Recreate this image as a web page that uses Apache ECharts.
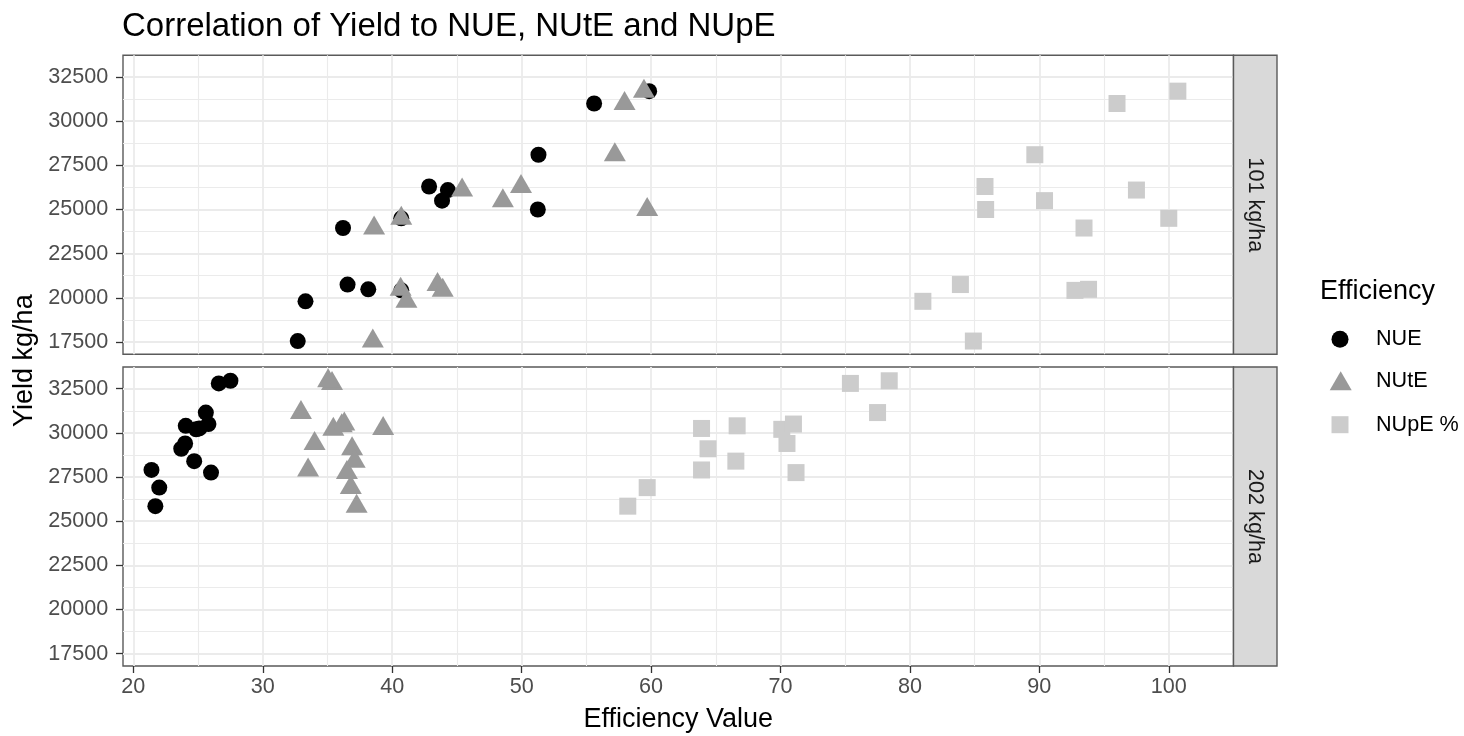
<!DOCTYPE html>
<html>
<head>
<meta charset="utf-8">
<script src="https://cdn.jsdelivr.net/npm/echarts@6/dist/echarts.min.js"></script>
<style>
  html, body { margin: 0; padding: 0; background: #ffffff; }
  #chart { width: 1464px; height: 736px; }
</style>
</head>
<body>
<div id="chart"></div>
<script>
// Grain yield (kg/ha) per plot with its nitrogen efficiencies, for two N rates.
// Arrays are aligned by plot: yield[k] goes with nue[k], nute[k], nupe[k].
const yield101 = [17550, 19800, 23950, 20750, 20480, 20420, 24500, 26300, 26100, 25500, 28100, 25000, 31000, 31700];
const nue101   = [32.7, 33.3, 36.2, 36.55, 38.15, 40.7, 40.7, 42.85, 44.3, 43.85, 51.3, 51.25, 55.6, 59.85];
const nute101  = [38.5, 41.1, 38.6, 43.5, 40.65, 43.9, 40.7, 49.95, 45.4, 48.55, 57.2, 59.7, 57.95, 59.45];
const nupe101  = [84.9, 81.0, 93.45, 83.9, 93.8, 92.75, 100.0, 85.8, 97.5, 90.4, 89.65, 85.85, 96.0, 100.7];

const yield202 = [27900, 26900, 25850, 30400, 29400, 29100, 28400, 27750, 30250, 30200, 31150, 30500, 32800, 32950];
const nue202   = [21.4, 22.0, 21.7, 24.05, 24.0, 23.7, 24.7, 26.0, 25.1, 24.85, 25.6, 25.8, 26.6, 27.5];
const nute202  = [33.5, 36.8, 37.25, 36.1, 34.0, 36.9, 37.1, 36.5, 39.3, 35.45, 32.95, 36.3, 35.35, 35.05];
const nupe202  = [63.9, 59.7, 58.2, 66.65, 70.5, 64.4, 66.55, 71.2, 63.9, 70.1, 77.5, 71.0, 75.4, 78.4];

const facetLabels = ['101 kg/ha', '202 kg/ha'];
const efficiencyNames = ['NUE', 'NUtE', 'NUpE %'];

const xTicks = [20, 30, 40, 50, 60, 70, 80, 90, 100];
const xMinorTicks = [25, 35, 45, 55, 65, 75, 85, 95];
const yTicks = [17500, 20000, 22500, 25000, 27500, 30000, 32500];
const yMinorTicks = [18750, 21250, 23750, 26250, 28750, 31250];

// ---- layout and styling ----
const FONT = '"Liberation Sans", Arial, Helvetica, sans-serif';
const PANEL = { left: 123, width: 1110.5, height: 299, tops: [55.3, 367] };
const STRIP_W = 43.5;
const X_RANGE = [19.2, 105];
const Y_RANGE = [16800, 33730];
const GRID_MAJOR = '#EBEBEB';
const INK = '#333333';
const BORDER = '#5A5A5A';

const panels = [
  { label: facetLabels[0], yields: yield101, values: [nue101, nute101, nupe101] },
  { label: facetLabels[1], yields: yield202, values: [nue202, nute202, nupe202] }
];

const markerStyles = [
  { symbol: 'circle',   symbolSize: 16,       symbolOffset: [0, 0],  color: '#000000' },
  { symbol: 'triangle', symbolSize: [22, 19], symbolOffset: [0, -3], color: '#999999' },
  { symbol: 'rect',     symbolSize: 17,       symbolOffset: [0, 0],  color: '#CCCCCC' }
];

const grids = PANEL.tops.map(top => ({
  left: PANEL.left, top: top, width: PANEL.width, height: PANEL.height,
  show: true, backgroundColor: '#ffffff', borderColor: BORDER, borderWidth: 1.4,
  containLabel: false, outerBoundsMode: 'none'
}));

const xAxes = [];
const yAxes = [];
panels.forEach((p, gi) => {
  const isBottom = gi === panels.length - 1;
  xAxes.push({
    type: 'value', gridIndex: gi, min: X_RANGE[0], max: X_RANGE[1], position: 'bottom',
    axisLine: { show: false },
    axisTick: { show: isBottom, customValues: xTicks, length: 7, lineStyle: { color: INK, width: 1.3 } },
    axisLabel: { show: isBottom, customValues: xTicks, margin: 10, fontSize: 21.6, color: '#4D4D4D', fontFamily: FONT },
    splitLine: { show: true, lineStyle: { color: GRID_MAJOR, width: 1.8 } },
    name: isBottom ? 'Efficiency Value' : '',
    nameLocation: 'middle', nameGap: 40.5,
    nameTextStyle: { fontSize: 27, color: '#000000', fontFamily: FONT }
  });
  xAxes.push({
    type: 'value', gridIndex: gi, min: X_RANGE[0], max: X_RANGE[1], position: 'top',
    axisLine: { show: false },
    axisTick: { show: false, customValues: xMinorTicks },
    axisLabel: { show: false, customValues: xMinorTicks },
    splitLine: { show: true, lineStyle: { color: GRID_MAJOR, width: 1.1 } }
  });
  yAxes.push({
    type: 'value', gridIndex: gi, min: Y_RANGE[0], max: Y_RANGE[1], position: 'left',
    axisLine: { show: false },
    axisTick: { show: true, customValues: yTicks, length: 7, lineStyle: { color: INK, width: 1.3 } },
    axisLabel: { show: true, customValues: yTicks, margin: 14.7, fontSize: 21.6, color: '#4D4D4D',
                 fontFamily: FONT, formatter: v => String(v) },
    splitLine: { show: true, lineStyle: { color: GRID_MAJOR, width: 1.8 } }
  });
  yAxes.push({
    type: 'value', gridIndex: gi, min: Y_RANGE[0], max: Y_RANGE[1], position: 'right',
    axisLine: { show: false },
    axisTick: { show: false, customValues: yMinorTicks },
    axisLabel: { show: false, customValues: yMinorTicks },
    splitLine: { show: true, lineStyle: { color: GRID_MAJOR, width: 1.1 } }
  });
});

const series = [];
panels.forEach((p, gi) => {
  efficiencyNames.forEach((name, si) => {
    const m = markerStyles[si];
    series.push({
      type: 'scatter', name: name,
      xAxisIndex: gi * 2, yAxisIndex: gi * 2,
      symbol: m.symbol, symbolSize: m.symbolSize, symbolOffset: m.symbolOffset,
      itemStyle: { color: m.color, opacity: 1 },
      emphasis: { disabled: true },
      z: 3 + si,
      data: p.yields.map((y, k) => [p.values[si][k], y])
    });
  });
});

// legend keys, one component per entry so each key keeps its own shape size
const legendKeys = [
  { name: 'NUE',    icon: 'circle',   w: 17, h: 17, cx: 1340,   cy: 339,   textLeft: 1376 },
  { name: 'NUtE',   icon: 'triangle', w: 22, h: 19, cx: 1340.7, cy: 380.5, textLeft: 1376 },
  { name: 'NUpE %', icon: 'rect',     w: 17, h: 17, cx: 1340,   cy: 424.5, textLeft: 1376 }
];
const legends = legendKeys.map(k => ({
  orient: 'vertical', padding: 0, selectedMode: false,
  left: k.cx - k.w / 2, top: k.cy - 10.8,
  itemWidth: k.w, itemHeight: k.h,
  data: [{ name: k.name, icon: k.icon }],
  textStyle: { fontSize: 21.6, color: '#000000', fontFamily: FONT,
               padding: [0, 0, 0, k.textLeft - (k.cx + k.w / 2 + 5)] }
}));

const graphics = [];
panels.forEach((p, gi) => {
  const top = PANEL.tops[gi];
  graphics.push({
    type: 'rect', z: 10,
    shape: { x: PANEL.left + PANEL.width, y: top, width: STRIP_W, height: PANEL.height },
    style: { fill: '#D9D9D9', stroke: BORDER, lineWidth: 1.4 }
  });
  graphics.push({
    type: 'text', z: 11,
    x: PANEL.left + PANEL.width + STRIP_W / 2, y: top + PANEL.height / 2,
    rotation: -Math.PI / 2,
    style: { text: p.label, align: 'center', verticalAlign: 'middle',
             font: '21.6px ' + FONT, fill: '#1A1A1A' }
  });
});
graphics.push({
  type: 'text', z: 11,
  x: 25, y: (PANEL.tops[0] + PANEL.tops[1] + PANEL.height) / 2,
  rotation: Math.PI / 2,
  style: { text: 'Yield kg/ha', align: 'center', verticalAlign: 'middle',
           font: '27px ' + FONT, fill: '#000000' }
});

const chart = echarts.init(document.getElementById('chart'), null, { renderer: 'canvas' });
chart.setOption({
  animation: false,
  backgroundColor: '#ffffff',
  title: [
    { text: 'Correlation of Yield to NUE, NUtE and NUpE', left: 122, top: 10, padding: 0,
      textStyle: { fontSize: 33, fontWeight: 'normal', color: '#000000', fontFamily: FONT } },
    { text: 'Efficiency', left: 1320, top: 278.5, padding: 0,
      textStyle: { fontSize: 27, fontWeight: 'normal', color: '#000000', fontFamily: FONT } }
  ],
  legend: legends,
  grid: grids,
  xAxis: xAxes,
  yAxis: yAxes,
  series: series,
  graphic: graphics
});
</script>
</body>
</html>
